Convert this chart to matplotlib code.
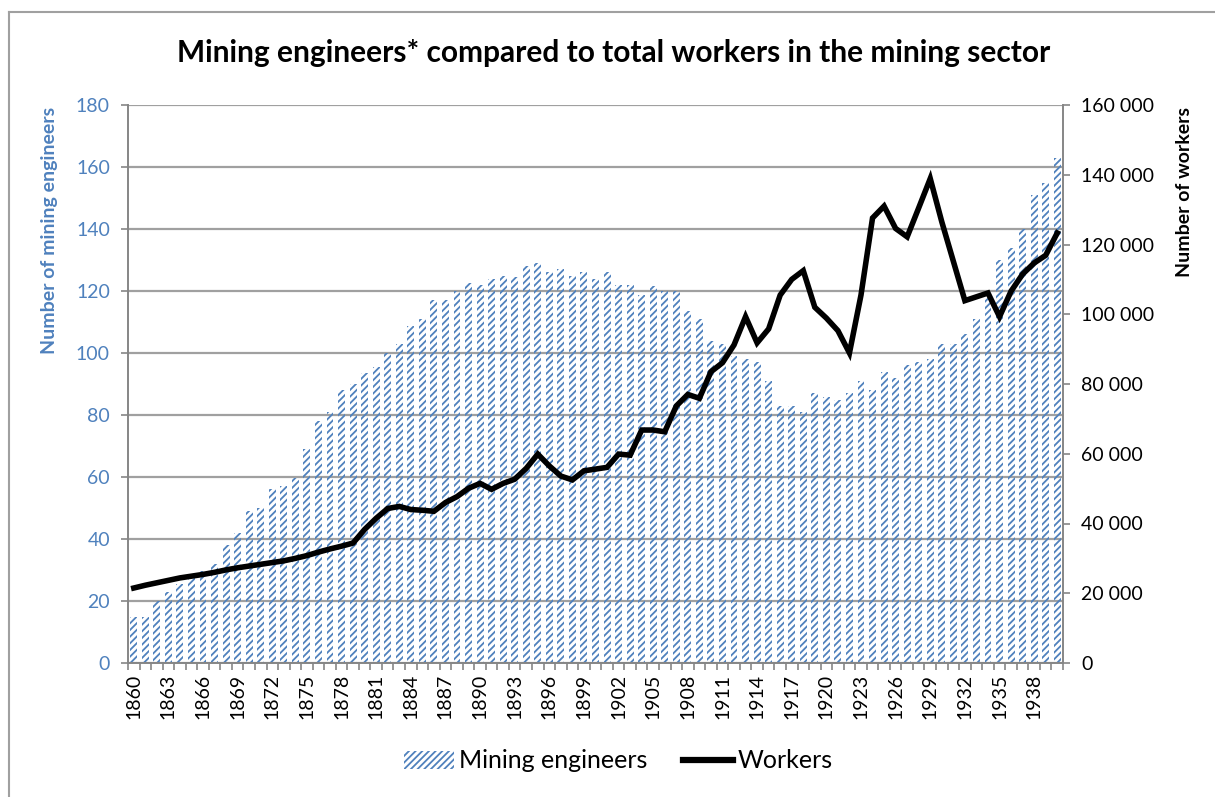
import numpy as np
import matplotlib
matplotlib.use("Agg")
from matplotlib import pyplot as plt
from matplotlib.patches import Patch
from matplotlib.lines import Line2D
from matplotlib.ticker import FuncFormatter

# data
years = list(range(1860, 1941))

engineers = [14.7, 14.7, 20, 23, 25.5, 27.3, 29.8, 32, 38, 42,
             49, 50, 56, 57, 59.6, 69, 78, 81, 88, 90,
             93.6, 95.6, 100, 103, 108.7, 111, 117, 117, 120, 122.5,
             122, 124, 125, 124.6, 128, 129, 126, 127, 125, 126,
             124, 126, 122, 122, 118.7, 121.6, 120, 120, 113.6, 111,
             104, 103, 99, 98, 97, 91, 83, 83, 81, 87,
             85.7, 85, 87, 91, 88, 94, 92, 96, 97, 98,
             103, 103, 106, 111, 118, 130, 134, 140, 151, 155,
             163]

workers = [21500, 22300, 23000, 23700, 24400, 24900, 25400, 26000, 26700, 27300,
           27800, 28300, 28800, 29300, 30000, 30800, 31800, 32700, 33500, 34400,
           38300, 41500, 44300, 44900, 44000, 43800, 43500, 46000, 47700, 50100,
           51500, 49800, 51500, 52700, 55800, 59900, 56500, 53600, 52500, 55100,
           55600, 56100, 59900, 59600, 66800, 66800, 66300, 73700, 77000, 75900,
           83500, 86100, 91200, 99300, 91800, 95800, 105500, 110000, 112500, 102000,
           98900, 95300, 88900, 105500, 127600, 131000, 124600, 122200, 130500, 138900,
           126500, 115200, 103900, 105000, 106100, 99300, 106600, 111500, 114700, 116900,
           123300]

blue = "#4F81BD"
grey = "#868686"

plt.rcParams['font.family'] = ['Lato', 'DejaVu Sans']
plt.rcParams['hatch.linewidth'] = 1.3
plt.rcParams['hatch.color'] = blue

fig = plt.figure(figsize=(12.15, 7.97), dpi=100)
ax = fig.add_axes([128/1215, 1-663/797, (1063-128)/1215, (663-105)/797])

x = np.arange(len(years))
ax.bar(x, engineers, width=0.6, facecolor='none', edgecolor=blue,
       hatch='/////', linewidth=0, zorder=2)

ax.set_xlim(-0.5, len(years)-0.5)
ax.set_ylim(0, 180)
ax.set_yticks(range(0, 181, 20))
ax.yaxis.grid(True, color='#A0A0A0', linewidth=1.6)
ax.set_axisbelow(True)
ax.tick_params(axis='y', colors=grey, labelcolor=blue, labelsize=14, length=5, width=1.2, pad=8)

ax.set_xticks(x[::3])
ax.set_xticklabels([str(y) for y in years[::3]], rotation=90, fontsize=14)
ax.set_xticks(np.arange(-0.5, len(years), 1), minor=True)
ax.tick_params(axis='x', which='major', length=0, pad=8)
ax.tick_params(axis='x', which='minor', length=5, width=1.2, colors=grey)

for s in ['top', 'right']:
    ax.spines[s].set_visible(False)
for s in ['left', 'bottom']:
    ax.spines[s].set_color(grey)
    ax.spines[s].set_linewidth(1.4)

ax2 = ax.twinx()
ax2.plot(x, workers, color='black', linewidth=4, solid_joinstyle='miter', zorder=3)
ax2.set_ylim(0, 160000)
ax2.set_yticks(range(0, 160001, 20000))
ax2.yaxis.set_major_formatter(FuncFormatter(lambda v, p: f"{int(v):,}".replace(",", " ")))
ax2.tick_params(axis='y', colors=grey, labelcolor='black', labelsize=14, length=5, width=1.2, pad=8)
for s in ['top', 'left', 'bottom']:
    ax2.spines[s].set_visible(False)
ax2.spines['right'].set_color(grey)
ax2.spines['right'].set_linewidth(1.4)

# axis titles sit at the top of each axis
fig.text(50/1215, 1-107/797, "Number of mining engineers", rotation=90, ha='center', va='top',
         color=blue, fontsize=14, fontweight='bold')
fig.text(1185/1215, 1-107/797, "Number of workers", rotation=90, ha='center', va='top',
         color='black', fontsize=14, fontweight='bold')

fig.text(0.505, 1-53/797, "Mining engineers* compared to total workers in the mining sector",
         ha='center', va='center', fontsize=21.5, fontweight='bold')

handles = [Patch(facecolor='none', edgecolor=blue, hatch='/////', linewidth=0),
           Line2D([0], [0], color='black', linewidth=4.5)]
fig.legend(handles, ["Mining engineers", "Workers"], loc='center',
           bbox_to_anchor=(0.509, 1-761/797), ncol=2, frameon=False, fontsize=18,
           handlelength=2.0, handletextpad=0.2, columnspacing=1.4)

# outer chart border
fig.add_artist(Line2D([9/1215, 9/1215], [0, 1-12/797], color='#A0A0A0', linewidth=1.5))
fig.add_artist(Line2D([9/1215, 1], [1-12/797, 1-12/797], color='#A0A0A0', linewidth=1.5))

fig.savefig("out.png", dpi=100)
